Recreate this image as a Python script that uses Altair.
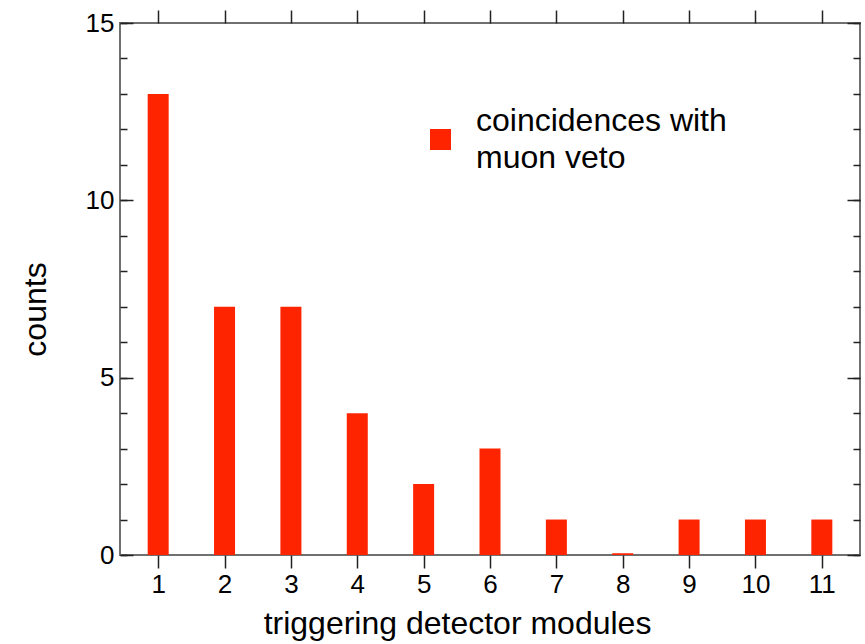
import altair as alt
import pandas as pd

# ---- data ----
modules = [1, 2, 3, 4, 5, 6, 7, 8, 9, 10, 11]
counts = [13, 7, 7, 4, 2, 3, 1, 0.05, 1, 1, 1]
series_name = "coincidences with muon veto"
legend_lines = ["coincidences with", "muon veto"]
y_major = [0, 5, 10, 15]
y_minor = list(range(0, 16))
x_ticks = modules

df = pd.DataFrame({"module": modules, "count": counts, "series": [series_name] * len(modules)})

W, H = 740, 532
FONT = "Liberation Sans"
RED = "#ff2400"

xscale = alt.Scale(domain=[0.5, 11.5], nice=False, zero=False)
yscale = alt.Scale(domain=[0, 15], nice=False)

base = alt.Chart(df)

bars = base.mark_bar(size=21).encode(
    x=alt.X("module:Q", scale=xscale,
            axis=alt.Axis(orient="bottom", values=x_ticks, tickSize=13, labelPadding=3,
                          labelFontSize=26, format="d", title="triggering detector modules",
                          titleFontSize=32, titleX=337, titleY=78, titleBaseline="alphabetic",
                          titleAnchor="start", titleAlign="center")),
    y=alt.Y("count:Q", scale=yscale,
            axis=alt.Axis(orient="left", values=y_major, ticks=False, labelPadding=6,
                          labelFontSize=26, title="counts", titleFontSize=32, titleAngle=-90,
                          titleX=-75, titleY=286, titleBaseline="alphabetic", titleAlign="center")),
    color=alt.Color("series:N", scale=alt.Scale(range=[RED]),
                    legend=alt.Legend(orient="none", legendX=310, legendY=106, title=legend_lines,
                                      titleOrient="right", titleLineHeight=37, titleFontSize=32,
                                      titleFontWeight="normal", titleFont=FONT, titleColor="black",
                                      titlePadding=25, titleAnchor="middle", titleBaseline="middle",
                                      titleLimit=500,
                                      symbolType="square", symbolSize=441, symbolStrokeWidth=0,
                                      labelExpr="''", labelOffset=0, labelFontSize=1, padding=0)),
)


def tick_layer(xaxis=None, yaxis=None):
    return base.mark_point(opacity=0).encode(
        x=alt.X("module:Q", scale=xscale, axis=xaxis),
        y=alt.Y("count:Q", scale=yscale, axis=yaxis),
    )


def yticks(orient, values, size):
    return alt.Axis(orient=orient, offset=-W, values=values, tickSize=size, labels=False, title=None)


layers = [
    bars,
    tick_layer(yaxis=yticks("right", y_minor, 7)),
    tick_layer(yaxis=yticks("right", y_major, 13)),
    tick_layer(yaxis=yticks("left", y_minor, 7)),
    tick_layer(yaxis=yticks("left", y_major, 13)),
    tick_layer(xaxis=alt.Axis(orient="top", values=x_ticks, tickSize=13, labels=False, title=None)),
]

chart = (
    alt.layer(*layers)
    .resolve_axis(x="independent", y="independent")
    .properties(width=W, height=H,
                padding={"left": 120, "top": 23, "right": 5, "bottom": 89},
                autosize=alt.AutoSizeParams(type="none"))
    .configure(font=FONT)
    .configure_view(stroke="#707070", strokeWidth=2)
    .configure_axis(domain=False, grid=False, tickColor="#222222", tickWidth=1.5,
                    labelColor="black", titleColor="black", labelFont=FONT, titleFont=FONT,
                    titleFontWeight="normal")
)

chart.save("out.html", embed_options={"renderer": "svg", "actions": False})
